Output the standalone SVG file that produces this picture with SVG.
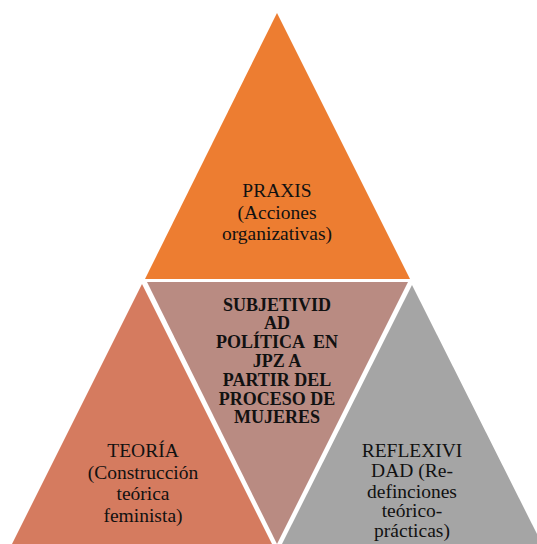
<svg xmlns="http://www.w3.org/2000/svg" width="537" height="544" viewBox="0 0 537 544">
  <style>
    .lbl { font-family: "Liberation Serif", "Times New Roman", serif; font-size: 19.5px; fill: #111; text-anchor: middle; }
    .core { font-family: "Liberation Serif", "Times New Roman", serif; font-size: 18px; font-weight: bold; fill: #111; text-anchor: middle; }
  </style>
  <rect width="537" height="544" fill="#ffffff"/>

  <!-- top: praxis -->
  <g id="praxis">
    <polygon points="277,13 145,279 410,279" fill="#ED7D31"/>
    <text class="lbl" x="277" y="197">PRAXIS</text>
    <text class="lbl" x="277" y="219">(Acciones</text>
    <text class="lbl" x="277" y="240">organizativas)</text>
  </g>

  <!-- bottom left: theory -->
  <g id="teoria">
    <polygon points="142,284 12,544 272,544" fill="#D57B5F"/>
    <text class="lbl" x="143" y="457">TEORÍA</text>
    <text class="lbl" x="143" y="479">(Construcción</text>
    <text class="lbl" x="143" y="500">teórica</text>
    <text class="lbl" x="143" y="522">feminista)</text>
  </g>

  <!-- centre: inverted triangle -->
  <g id="subjetividad">
    <polygon points="147,282 408,282 277,544" fill="#B98B82"/>
    <text class="core" x="277" y="311">SUBJETIVID</text>
    <text class="core" x="277" y="329">AD</text>
    <text class="core" x="277" y="348" xml:space="preserve">POLÍTICA  EN</text>
    <text class="core" x="277" y="367">JPZ A</text>
    <text class="core" x="277" y="386">PARTIR DEL</text>
    <text class="core" x="277" y="405">PROCESO DE</text>
    <text class="core" x="277" y="423">MUJERES</text>
  </g>

  <!-- bottom right: reflexivity -->
  <g id="reflexividad">
    <polygon points="412,285 282,544 542,544" fill="#A5A5A5"/>
    <text class="lbl" x="412" y="457">REFLEXIVI</text>
    <text class="lbl" x="412" y="477">DAD (Re-</text>
    <text class="lbl" x="412" y="498">definciones</text>
    <text class="lbl" x="412" y="517">teórico-</text>
    <text class="lbl" x="412" y="537">prácticas)</text>
  </g>
</svg>
